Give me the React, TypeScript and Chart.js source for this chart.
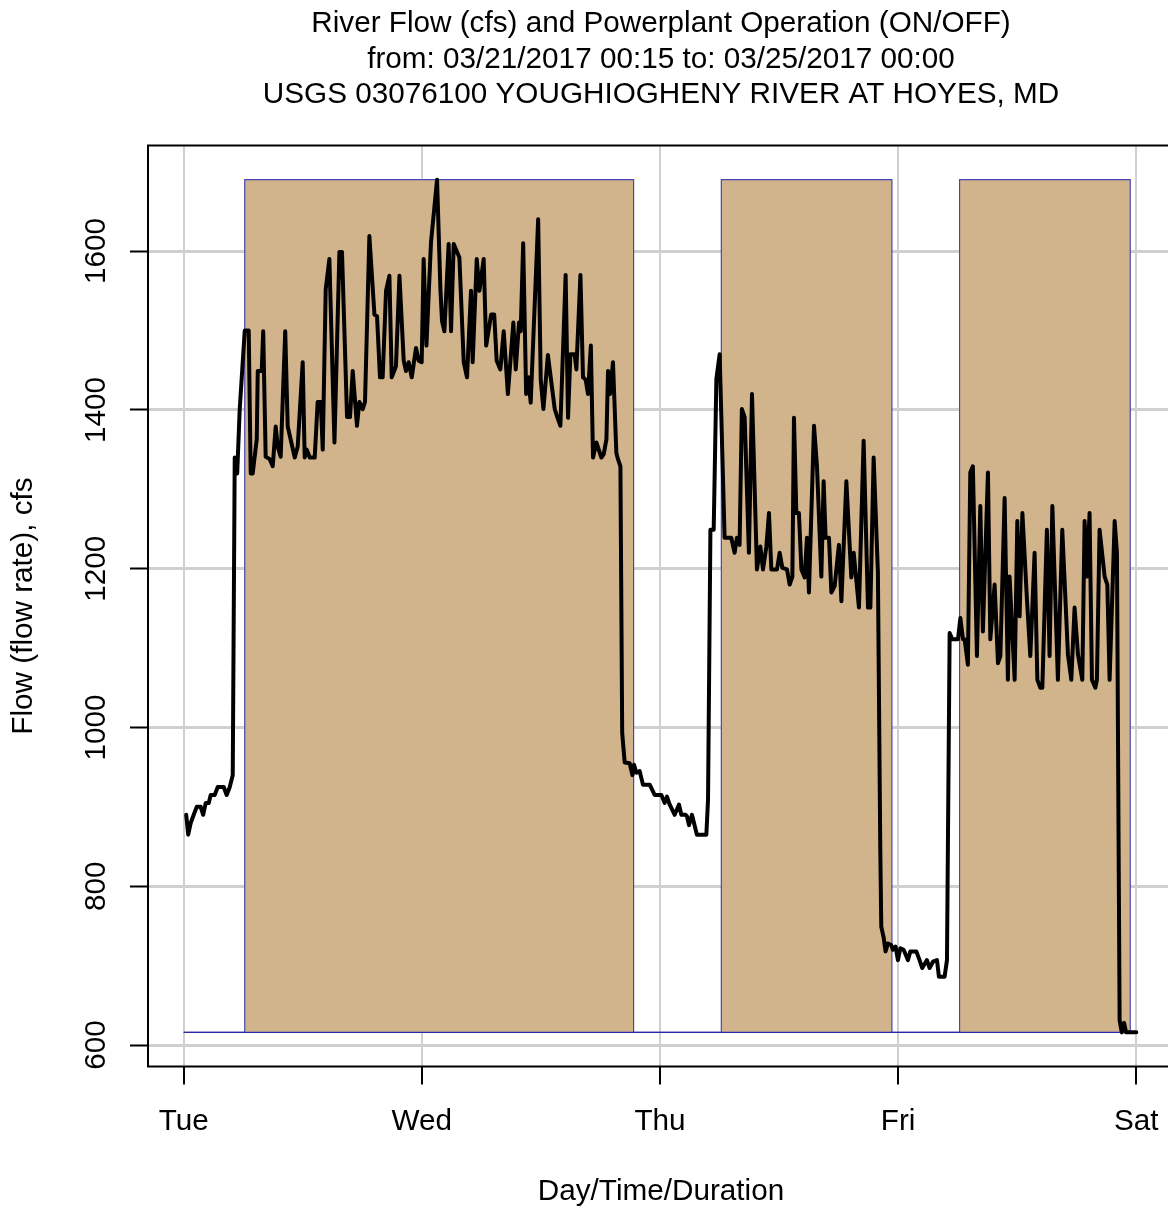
import React, { useEffect, useRef } from 'react';
import { Chart, registerables } from 'chart.js';

Chart.register(...registerables);

const FONT = "'Liberation Sans', Arial, Helvetica, sans-serif";
const FS = 29.7;

const titleLines = [
  'River Flow (cfs) and Powerplant Operation (ON/OFF)',
  'from: 03/21/2017 00:15 to: 03/25/2017 00:00',
  'USGS 03076100 YOUGHIOGHENY RIVER AT HOYES, MD',
];
const xTitle = 'Day/Time/Duration';
const yTitle = 'Flow (flow rate), cfs';

// x axis in hours since Tue 03/21 00:00
const dayTickHours = [0, 24, 48, 72, 96];
const dayLabels = ['Tue', 'Wed', 'Thu', 'Fri', 'Sat'];
const yTickValues = [600, 800, 1000, 1200, 1400, 1600];

// River flow [hour, cfs]
const flowTue: [number, number][] = [
  [0.25, 890], [0.45, 865], [0.71, 880], [1.01, 890], [1.31, 900], [1.71, 900], [1.96, 890], [2.22, 905],
  [2.52, 905], [2.72, 915], [3.12, 915], [3.43, 925], [4.03, 925], [4.33, 915], [4.64, 925], [4.94, 940],
  [5.14, 1340], [5.39, 1320], [5.64, 1400], [6.15, 1500], [6.55, 1500], [6.75, 1320], [6.95, 1320], [7.36, 1363],
  [7.46, 1449], [7.86, 1449], [8.01, 1499], [8.26, 1341], [8.67, 1338], [8.97, 1329], [9.27, 1379], [9.47, 1354],
  [9.77, 1341], [10.23, 1499], [10.48, 1379], [11.19, 1340], [11.49, 1354], [11.99, 1460], [12.19, 1340], [12.4, 1350],
  [12.7, 1340], [13.2, 1340], [13.5, 1410], [13.81, 1410], [14.01, 1350], [14.31, 1552], [14.68, 1590], [15.19, 1359],
  [15.69, 1599], [15.95, 1599], [16.46, 1391], [16.76, 1391], [17.03, 1449], [17.46, 1380], [17.7, 1410], [18.04, 1401],
  [18.27, 1410], [18.71, 1619], [19.22, 1520], [19.48, 1518], [19.78, 1441], [20.05, 1441], [20.39, 1550], [20.73, 1569],
  [20.96, 1441], [21.39, 1455], [21.74, 1569], [22.17, 1462], [22.4, 1449], [22.67, 1460], [22.98, 1441], [23.41, 1478],
  [23.68, 1462], [23.98, 1460],
];
const flowWed: [number, number][] = [
  [24.18, 1590], [24.46, 1481], [24.92, 1611], [25.53, 1690], [25.87, 1552], [26.03, 1512], [26.27, 1499], [26.7, 1609],
  [26.94, 1499], [27.21, 1609], [27.78, 1592], [28.22, 1460], [28.55, 1441], [28.95, 1550], [29.12, 1460], [29.53, 1590],
  [29.8, 1550], [30.23, 1590], [30.48, 1481], [30.98, 1520], [31.29, 1520], [31.54, 1462], [31.91, 1451], [32.25, 1499],
  [32.67, 1420], [33.22, 1510], [33.46, 1451], [33.79, 1510], [33.96, 1499], [34.21, 1610], [34.51, 1420], [34.73, 1441],
  [34.97, 1409], [35.72, 1640], [35.98, 1438], [36.25, 1401], [36.7, 1469], [37.39, 1401], [37.62, 1392], [37.96, 1380],
  [38.49, 1570], [38.73, 1390], [38.97, 1470], [39.4, 1470], [39.57, 1451], [39.98, 1570], [40.24, 1441], [40.51, 1438],
  [40.74, 1420], [41.03, 1481], [41.25, 1340], [41.59, 1359], [42.09, 1340], [42.32, 1344], [42.6, 1363], [42.76, 1449],
  [42.96, 1420], [43.26, 1460], [43.6, 1346], [43.76, 1338], [44.01, 1329], [44.19, 993], [44.44, 956], [44.94, 955],
  [45.22, 940], [45.38, 953], [45.62, 943], [45.95, 945], [46.28, 928], [46.96, 928], [47.46, 915],
];
const flowThu: [number, number][] = [
  [48.14, 915], [48.47, 905], [48.7, 913], [48.97, 903], [49.48, 890], [49.91, 903], [50.15, 890], [50.58, 890],
  [50.72, 888], [50.92, 877], [51.22, 890], [51.72, 865], [52.67, 865], [52.84, 909], [53.08, 1249], [53.41, 1249],
  [53.68, 1439], [54.01, 1470], [54.51, 1239], [55.18, 1239], [55.52, 1220], [55.75, 1239], [56.02, 1230], [56.25, 1401],
  [56.53, 1391], [56.96, 1220], [57.27, 1420], [57.77, 1199], [58.11, 1228], [58.38, 1199], [58.72, 1228], [58.98, 1270],
  [59.22, 1199], [59.79, 1199], [60.06, 1220], [60.33, 1201], [60.8, 1199], [61.07, 1180], [61.34, 1190], [61.5, 1390],
  [61.74, 1270], [62.0, 1270], [62.25, 1199], [62.58, 1189], [62.81, 1239], [63.01, 1170], [63.52, 1380], [63.82, 1329],
  [64.26, 1190], [64.49, 1310], [64.69, 1239], [65.03, 1239], [65.27, 1170], [65.6, 1178], [66.03, 1230], [66.28, 1159],
  [66.78, 1310], [67.28, 1189], [67.52, 1220], [68.05, 1151], [68.52, 1361], [68.96, 1151], [69.2, 1151], [69.53, 1340],
  [69.96, 1195], [70.2, 846], [70.3, 749], [70.53, 736], [70.73, 718], [70.97, 728], [71.31, 726], [71.47, 720],
  [71.74, 724], [71.98, 707],
];
const flowFri: [number, number][] = [
  [72.22, 722], [72.55, 720], [72.98, 707], [73.23, 718], [73.83, 718], [74.16, 707], [74.43, 697], [74.9, 707],
  [75.17, 697], [75.51, 705], [75.91, 707], [76.11, 686], [76.68, 686], [76.92, 707], [77.19, 1119], [77.46, 1111],
  [78.03, 1111], [78.27, 1138], [78.53, 1111], [78.7, 1111], [79.03, 1079], [79.27, 1321], [79.53, 1329], [79.94, 1090],
  [80.28, 1279], [80.54, 1121], [81.05, 1321], [81.29, 1111], [81.72, 1180], [82.06, 1081], [82.3, 1090], [82.73, 1289],
  [83.06, 1060], [83.23, 1190], [83.74, 1060], [84.01, 1260], [84.24, 1140], [84.52, 1270], [84.98, 1161], [85.32, 1090],
  [85.75, 1220], [86.03, 1060], [86.33, 1050], [86.53, 1050], [86.99, 1249], [87.26, 1090], [87.54, 1279], [88.1, 1060],
  [88.54, 1249], [89.11, 1092], [89.45, 1060], [89.78, 1151], [90.12, 1092], [90.56, 1060], [90.79, 1260], [91.02, 1190],
  [91.29, 1270], [91.53, 1060], [91.87, 1050], [92.03, 1060], [92.3, 1249], [92.81, 1190], [93.08, 1180], [93.31, 1060],
  [93.82, 1260], [94.05, 1220], [94.32, 631], [94.54, 616], [94.77, 628], [94.97, 616], [96.0, 616],
];

// Powerplant operation (step): hour and ON(1)/OFF(0)
const opHours = [0, 6.15, 6.15, 45.34, 45.34, 54.18, 54.18, 71.37, 71.37, 78.19, 78.19, 95.39, 95.39, 96];
const opState = [0, 0, 1, 1, 0, 0, 1, 1, 0, 0, 1, 1, 0, 0];
const offLevel = 616;
const onLevel = 1690;

const xMin = -3.6;
const xMax = 99.8;
const yMin = 573;
const yMax = 1733;

const rFrame = {
  id: 'rFrame',
  afterDraw(chart: any) {
    const { ctx, chartArea: a } = chart;
    const ys = chart.scales.y;
    ctx.save();
    ctx.strokeStyle = '#000';
    ctx.lineWidth = 2;
    ctx.strokeRect(a.left, a.top, a.right - a.left, a.bottom - a.top);
    ctx.fillStyle = '#000';
    ctx.font = `${FS}px ${FONT}`;
    ctx.textAlign = 'center';
    ctx.textBaseline = 'middle';
    for (const t of ys.ticks) {
      const py = ys.getPixelForValue(t.value);
      ctx.save();
      ctx.translate(a.left - 51.5, py);
      ctx.rotate(-Math.PI / 2);
      ctx.fillText(String(t.value), 0, 0);
      ctx.restore();
    }
    ctx.restore();
  },
};

export default function App() {
  const ref = useRef<HTMLCanvasElement | null>(null);
  useEffect(() => {
    if (!ref.current) return;
    const flow = [...flowTue, ...flowWed, ...flowThu, ...flowFri].map(([x, y]) => ({ x, y }));
    const op = opHours.map((h, i) => ({ x: h, y: opState[i] ? onLevel : offLevel }));
    const base = [
      { x: opHours[0], y: offLevel },
      { x: opHours[opHours.length - 1], y: offLevel },
    ];
    const chart = new Chart(ref.current, {
      type: 'line',
      data: {
        datasets: [
          {
            label: 'Flow',
            data: flow,
            borderColor: '#000',
            borderWidth: 4,
            pointRadius: 0,
            fill: false,
            tension: 0,
            borderJoinStyle: 'round',
            borderCapStyle: 'round',
            order: 0,
          },
          {
            label: 'Base',
            data: base,
            borderColor: 'rgb(40,40,170)',
            borderWidth: 1.2,
            pointRadius: 0,
            fill: false,
            order: 1,
          },
          {
            label: 'Operation',
            data: op,
            borderColor: 'rgb(70,70,180)',
            borderWidth: 1.2,
            backgroundColor: '#D2B48C',
            pointRadius: 0,
            fill: { value: offLevel },
            tension: 0,
            order: 2,
          },
        ],
      },
      options: {
        animation: false,
        responsive: false,
        devicePixelRatio: 1,
        events: [],
        layout: { padding: { left: 0, right: 26, top: 0, bottom: 0 } },
        plugins: {
          legend: { display: false },
          tooltip: { enabled: false },
          title: {
            display: true,
            fullSize: false,
            text: titleLines,
            color: '#000',
            font: { family: FONT, size: FS, weight: 'normal', lineHeight: '35.3px' },
            padding: { top: 6.5, bottom: 33.1 },
          },
        },
        scales: {
          x: {
            type: 'linear',
            min: xMin,
            max: xMax,
            afterBuildTicks: (s: any) => {
              s.ticks = dayTickHours.map((v) => ({ value: v }));
            },
            afterFit: (s: any) => {
              s.height = 140.5;
            },
            grid: {
              color: '#D0D0D0',
              lineWidth: 2,
              drawTicks: true,
              tickLength: 18,
              tickColor: '#000',
              tickWidth: 2,
            },
            border: { display: false },
            ticks: {
              autoSkip: false,
              maxRotation: 0,
              minRotation: 0,
              padding: 19.4,
              color: '#000',
              font: { family: FONT, size: FS },
              callback: (_v: any, i: number) => dayLabels[i],
            },
            title: {
              display: true,
              text: xTitle,
              color: '#000',
              font: { family: FONT, size: FS, lineHeight: 1 },
              padding: { top: 0, bottom: 0.5 },
            },
          },
          y: {
            type: 'linear',
            min: yMin,
            max: yMax,
            afterBuildTicks: (s: any) => {
              s.ticks = yTickValues.map((v) => ({ value: v }));
            },
            afterFit: (s: any) => {
              s.width = 148;
            },
            grid: {
              color: '#D0D0D0',
              lineWidth: 3,
              drawTicks: true,
              tickLength: 18,
              tickColor: '#000',
              tickWidth: 2,
            },
            border: { display: false },
            ticks: { display: false },
            title: {
              display: true,
              text: yTitle,
              color: '#000',
              font: { family: FONT, size: FS, lineHeight: 1 },
              padding: { top: 8.5, bottom: 0 },
            },
          },
        },
      },
      plugins: [rFrame],
    } as any);
    return () => chart.destroy();
  }, []);

  return (
    <div
      style={{
        position: 'fixed',
        left: 0,
        top: 0,
        width: 1168,
        height: 1207,
        overflow: 'hidden',
        background: '#fff',
      }}
    >
      <canvas ref={ref} width={1200} height={1207} style={{ display: 'block', width: 1200, height: 1207 }} />
    </div>
  );
}
